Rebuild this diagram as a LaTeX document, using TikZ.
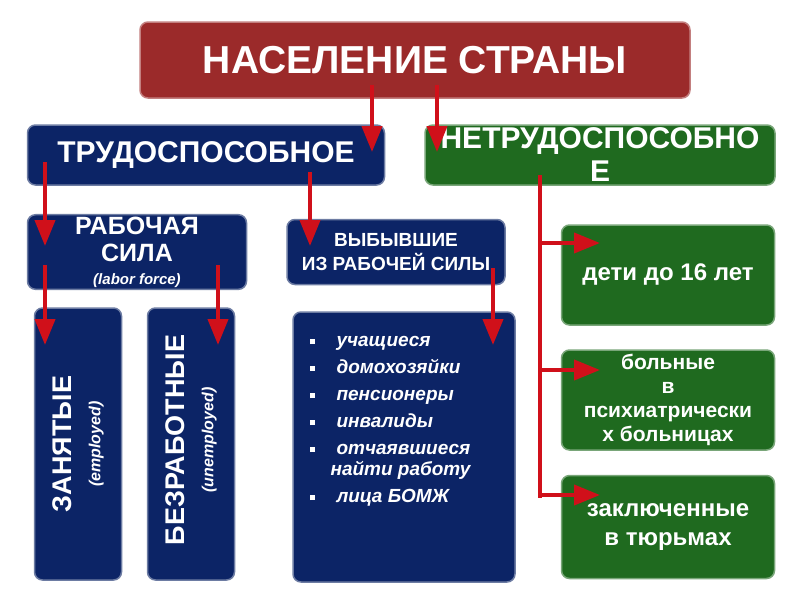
\documentclass[tikz,border=0pt]{standalone}
\usepackage{fontspec}
\setmainfont{Liberation Sans}
\usetikzlibrary{arrows.meta}
\definecolor{DarkRedBox}{HTML}{9B2A2A}
\definecolor{NavyBox}{HTML}{0C2466}
\definecolor{GreenBox}{HTML}{1F6A1F}
\definecolor{ArrowRed}{HTML}{D0101A}
\newcommand{\bul}{\rule[2pt]{5pt}{5pt}}
\tikzset{
  box/.style={draw=#1!60!white, line width=1.5pt, rounded corners=8pt, fill=#1,
    text=white, font=\bfseries, align=center, inner sep=2pt},
  redarrow/.style={ArrowRed, line width=4pt, -{Triangle[width=20pt,length=26pt]}},
  greenline/.style={ArrowRed, line width=4pt}
}
\begin{document}
\begin{tikzpicture}[x=1pt,y=-1pt]
  \useasboundingbox (0,0) rectangle (800,600);

  % boxes
  \node[box=DarkRedBox, minimum width=550pt, minimum height=76pt, font=\bfseries\fontsize{39}{42}\selectfont] (country) at (415,60) {НАСЕЛЕНИЕ СТРАНЫ};
  \node[box=NavyBox, minimum width=357pt, minimum height=60pt, font=\bfseries\fontsize{30}{34}\selectfont] (able) at (206,155) {ТРУДОСПОСОБНОЕ};
  \node[box=GreenBox, minimum width=350pt, minimum height=60pt, font=\bfseries\fontsize{30}{33}\selectfont] (unable) at (600,155) {НЕТРУДОСПОСОБНО\\Е};
  \node[box=NavyBox, minimum width=219pt, minimum height=65pt, font=\bfseries\fontsize{25}{27}\selectfont] (labor) at (137,252) {РАБОЧАЯ\\СИЛА\\[-4pt]{\normalfont\bfseries\itshape\fontsize{15}{16}\selectfont(labor force)}};
  \node[box=NavyBox, minimum width=218pt, minimum height=65pt, font=\bfseries\fontsize{19}{24}\selectfont] (out) at (396,252) {ВЫБЫВШИЕ\\ИЗ РАБОЧЕЙ СИЛЫ};
  \node[box=NavyBox, minimum width=87pt, minimum height=272pt] (employed) at (78,444) {};
  \node[rotate=90, text=white, align=center, font=\bfseries\fontsize{27}{29}\selectfont] (employedtxt) at (78,444) {ЗАНЯТЫЕ\\{\bfseries\itshape\fontsize{16}{18}\selectfont(employed)}};
  \node[box=NavyBox, minimum width=87pt, minimum height=272pt] (unemployed) at (191,444) {};
  \node[rotate=90, text=white, align=center, font=\bfseries\fontsize{27}{29}\selectfont] (unemployedtxt) at (191,440) {БЕЗРАБОТНЫЕ\\{\bfseries\itshape\fontsize{16}{18}\selectfont(unemployed)}};
  \node[box=NavyBox, minimum width=222pt, minimum height=270pt] (list) at (404,447) {};
  \node[text=white, align=left, anchor=north west, font=\bfseries\itshape\fontsize{19}{21}\selectfont] (listtxt) at (306,328) {%
    \begin{tabular}{@{}l@{\hspace{22pt}}l@{}}
      \bul & учащиеся\\[6pt]
      \bul & домохозяйки\\[6pt]
      \bul & пенсионеры\\[6pt]
      \bul & инвалиды\\[6pt]
      \bul & отчаявшиеся\\
       & \hspace{-6pt}найти работу\\[6pt]
      \bul & лица БОМЖ
    \end{tabular}};
  \node[box=GreenBox, minimum width=213pt, minimum height=100pt, font=\bfseries\fontsize{24}{28}\selectfont] (kids) at (668,275) {дети до 16 лет};
  \node[box=GreenBox, minimum width=213pt, minimum height=100pt, font=\bfseries\fontsize{21}{24}\selectfont] (patients) at (668,400) {больные\\в\\психиатрически\\х больницах};
  \node[box=GreenBox, minimum width=213pt, minimum height=103pt, font=\bfseries\fontsize{24}{29}\selectfont] (prisoners) at (668,527) {заключенные\\в тюрьмах};

  % arrow ends
  \coordinate (c1) at (372,85);  \coordinate (c1e) at (372,152);
  \coordinate (c2) at (437,85);  \coordinate (c2e) at (437,152);
  \coordinate (a1) at (45,162);  \coordinate (a1e) at (45,246);
  \coordinate (a2) at (310,172); \coordinate (a2e) at (310,246);
  \coordinate (l1) at (45,265);  \coordinate (l1e) at (45,345);
  \coordinate (l2) at (218,265); \coordinate (l2e) at (218,345);
  \coordinate (o1) at (493,268); \coordinate (o1e) at (493,345);
  \coordinate (g0) at (540,175); \coordinate (g1) at (540,498);

  \draw[redarrow] (c1) -- (c1e);
  \draw[redarrow] (c2) -- (c2e);
  \draw[redarrow] (a1) -- (a1e);
  \draw[redarrow] (a2) -- (a2e);
  \draw[redarrow] (l1) -- (l1e);
  \draw[redarrow] (l2) -- (l2e);
  \draw[redarrow] (o1) -- (o1e);
  \draw[greenline] (g0) -- (g1);
  \foreach \yy in {243,370,495}
    \draw[redarrow] (540,\yy) -- (600,\yy);
\end{tikzpicture}
\end{document}
